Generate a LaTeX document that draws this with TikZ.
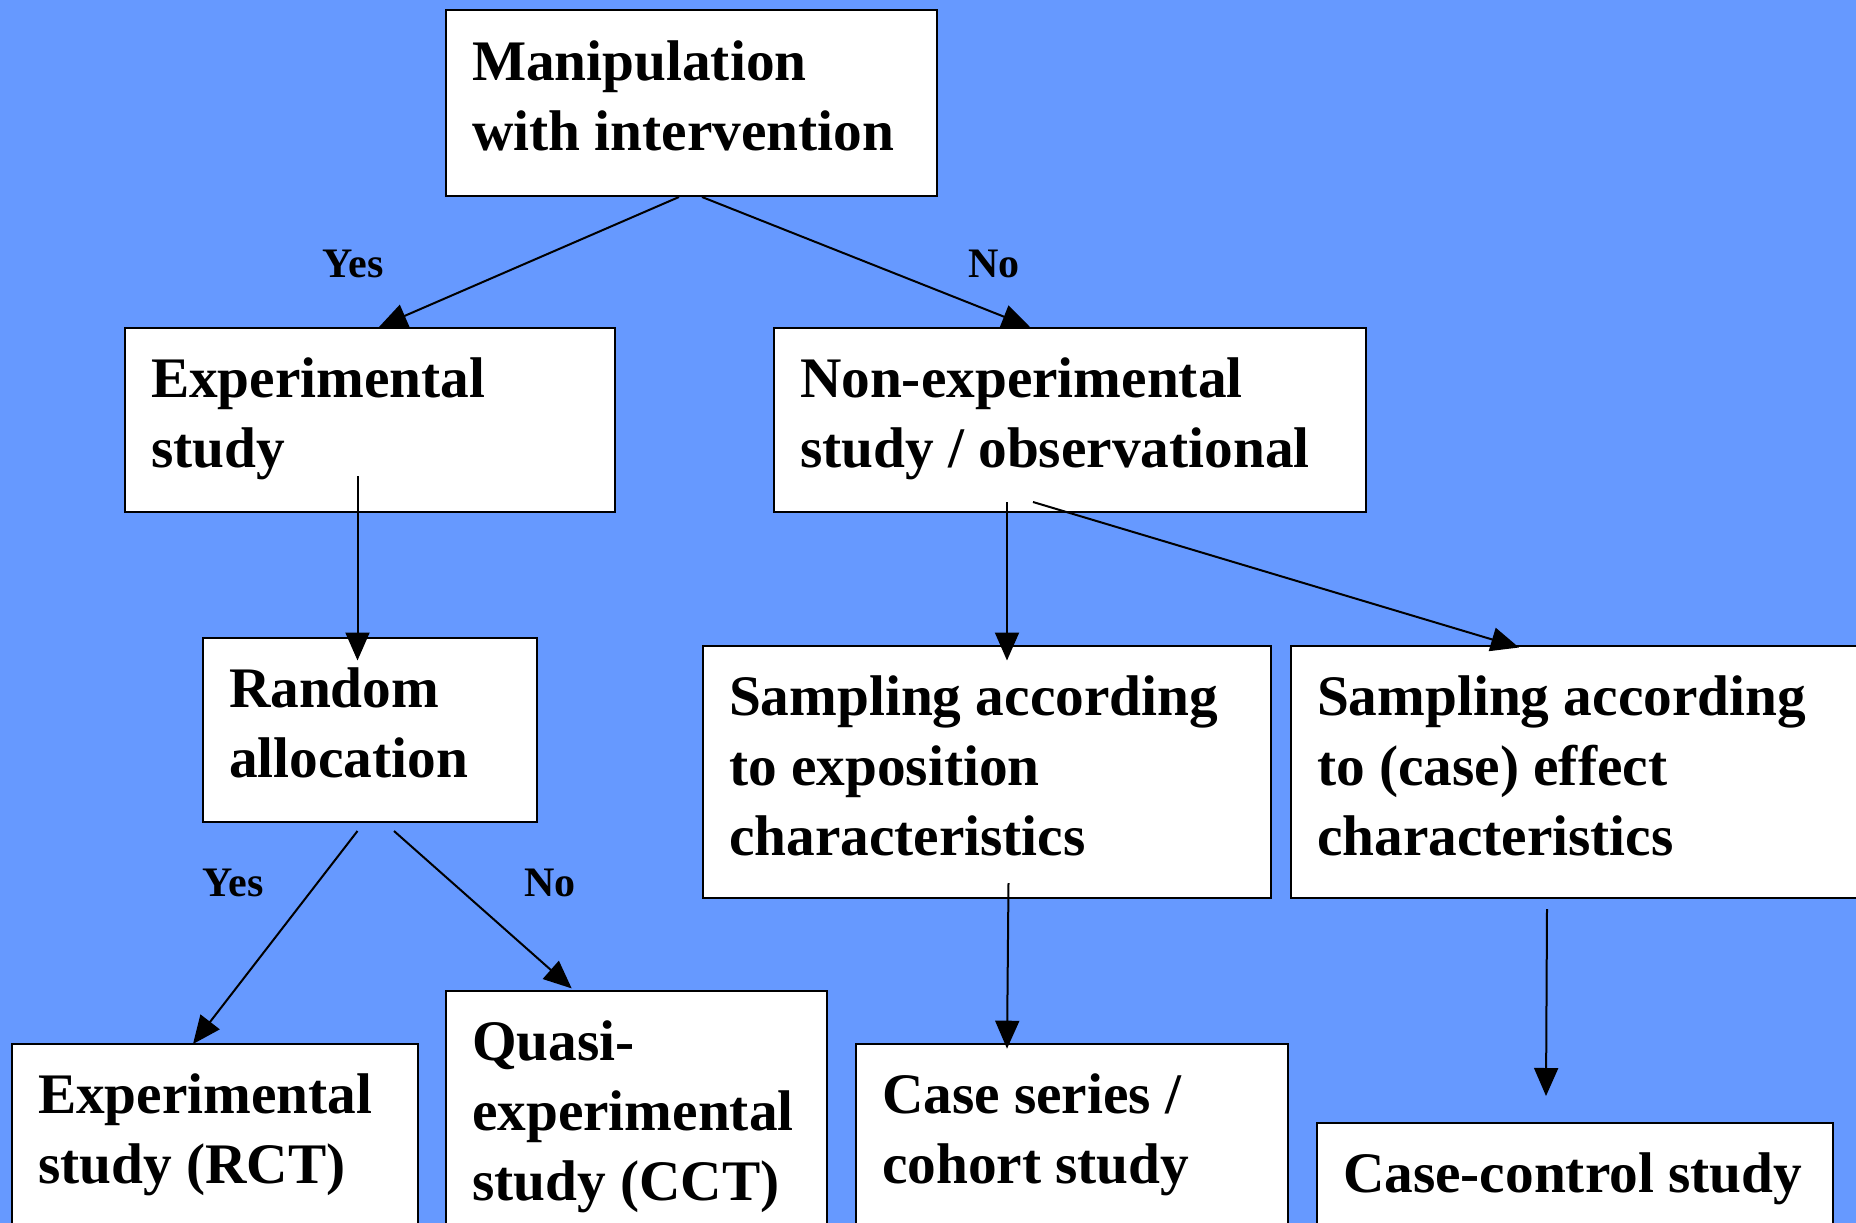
\documentclass[tikz,border=0pt]{standalone}
\usepackage{fontspec}
\setmainfont{Liberation Serif}
\usetikzlibrary{arrows.meta,calc}
\definecolor{slideblue}{RGB}{102,153,255}
\tikzset{every picture/.style={line width=1.5pt}}
\tikzset{
  box/.style 2 args={draw,fill=white,anchor=north west,inner sep=0pt,minimum width=#1*0.75pt,minimum height=#2*0.75pt},
  txt/.style={anchor=north west,inner sep=0pt,align=left,font=\fontsize{43}{52.5}\selectfont\bfseries},
  lbl/.style={inner sep=0pt,font=\fontsize{31.5}{36}\selectfont\bfseries},
  arr/.style={-{Triangle[length=21pt,width=18pt]}}
}

\begin{document}
\begin{tikzpicture}[x=0.75pt,y=0.75pt,yscale=-1,xscale=1]
	%background, 1856 x 1223
	\fill[slideblue] (0,0) rectangle (1856,1223);
	\useasboundingbox (0,0) rectangle (1856,1223);
	\clip (0,0) rectangle (1856,1223);
	
	%Boxes
	\node[box={491}{185.5}] (manip) at (445,9.5) {};
	\node[box={490}{184}] (exp) at (124,327) {};
	\node[box={592}{184}] (nonexp) at (773,327) {};
	\node[box={334}{184}] (random) at (202,637) {};
	\node[box={568}{252}] (expo) at (702,645) {};
	\node[box={580}{252}] (effect) at (1290,645) {};
	\node[box={406}{250}] (rct) at (11,1043) {};
	\node[box={381}{300}] (quasi) at (445,990) {};
	\node[box={432}{250}] (cohort) at (855,1043) {};
	\node[box={516}{200}] (casectrl) at (1316,1122) {};
	
	% Text Nodes
	\node[txt] (manip-t) at ($(manip.north west)+(26,30)$) {Manipulation\\with intervention};
	\node[txt] (exp-t) at ($(exp.north west)+(26,30)$) {Experimental\\study};
	\node[txt] (nonexp-t) at ($(nonexp.north west)+(26,30)$) {Non-experimental\\study / observational};
	\node[txt] (random-t) at ($(random.north west)+(26,30)$) {Random\\allocation};
	\node[txt] (expo-t) at ($(expo.north west)+(26,30)$) {Sampling according\\to exposition\\characteristics};
	\node[txt] (effect-t) at ($(effect.north west)+(26,30)$) {Sampling according\\to (case) effect\\characteristics};
	\node[txt] (rct-t) at ($(rct.north west)+(26,30)$) {Experimental\\study (RCT)};
	\node[txt] (quasi-t) at ($(quasi.north west)+(26,30)$) {Quasi-\\experimental\\study (CCT)};
	\node[txt] (cohort-t) at ($(cohort.north west)+(26,30)$) {Case series /\\cohort study};
	\node[txt] (casectrl-t) at ($(casectrl.north west)+(26,30)$) {Case-control study};
	
	% Labels
	\node[lbl] (yes1) at (353,264) {Yes};
	\node[lbl] (no1) at (994,264) {No};
	\node[lbl] (yes2) at (233,883) {Yes};
	\node[lbl] (no2) at (550,883) {No};
	
	% Arrows
	\draw[arr] ($(manip.south west)+(234,0)$) -- ($(exp.north west)+(255,0)$);
	\draw[arr] ($(manip.south west)+(257,0)$) -- ($(nonexp.north west)+(257,0)$);
	\draw[arr] ($(exp.north west)+(233.5,149)$) -- ($(random.north west)+(155.5,23.5)$);
	\draw[arr] ($(nonexp.north west)+(234,175)$) -- ($(expo.north west)+(305,15.5)$);
	\draw[arr] ($(nonexp.north west)+(260,175)$) -- ($(effect.north west)+(229,2.5)$);
	\draw[arr] ($(expo.north west)+(306.5,238)$) -- ($(cohort.north west)+(152,5.7)$);
	\draw[arr] ($(effect.north west)+(257,264)$) -- ($(casectrl.north west)+(230,-26)$);
	\draw[arr] ($(random.north west)+(155.5,194)$) -- ($(rct.north west)+(182,1)$);
	\draw[arr] ($(random.north west)+(192,194)$) -- ($(quasi.north west)+(126.7,-1.6)$);
	
\end{tikzpicture}
\end{document}
